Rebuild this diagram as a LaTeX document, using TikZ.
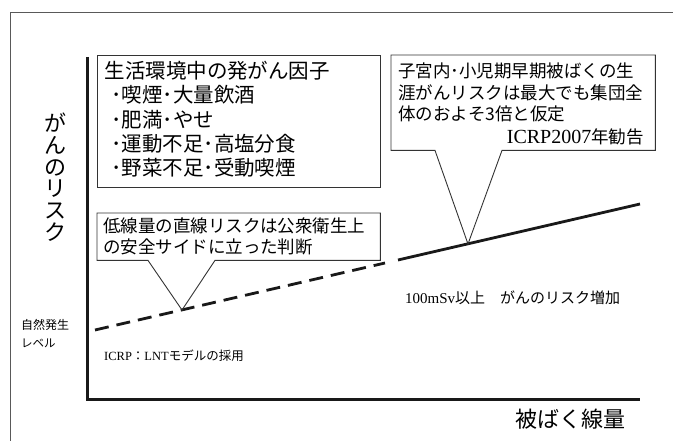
\documentclass[tikz,border=0pt]{standalone}
\usepackage{fontspec}
\setmainfont{Liberation Serif}
\newfontfamily\cjk{Noto Sans CJK JP}
\usetikzlibrary{calc}
\tikzset{
  frameline/.style={draw=black!65, line width=1pt},
  boxline/.style={draw=black!80, line width=0.9pt},
  axisline/.style={draw=black!90, line width=3pt, line join=miter},
  riskline/.style={draw=black!90, line width=2.8pt},
  jtext/.style={inner sep=0pt, outer sep=0pt, align=left},
}
\begin{document}
\begin{tikzpicture}[x=1pt,y=-1pt]
\useasboundingbox (0,0) rectangle (673,441);
% outer frame
\coordinate (fbl) at (10,441);
\coordinate (ftl) at (10,13);
\coordinate (ftr) at (673,13);
\draw[frameline] (fbl) -- (ftl) -- (ftr);

% axes
\coordinate (axtop) at (87,57);
\coordinate (axo) at (87,399);
\coordinate (axend) at (640,399);
\draw[axisline] (axtop) -- (axo) -- (axend);

% risk line
\coordinate (d0) at (95,330);
\coordinate (d1) at (385,263);
\coordinate (s0) at (398,260);
\coordinate (s1) at (640,204);
\draw[riskline, dash pattern=on 14pt off 8pt] (d0) -- (d1);
\draw[riskline] (s0) -- (s1);

% box 1
\node[boxline, rectangle, anchor=north west, minimum width=283pt, minimum height=132pt, inner sep=0pt] (b1) at (97,55) {};
\node[jtext, anchor=north west, font={\cjk\fontsize{20.5}{24.4}\selectfont}] (b1t) at (104.5,61)
 {生活環境中の発がん因子\\
  \hspace{7pt}･喫煙･大量飲酒\\
  \hspace{7pt}･肥満･やせ\\
  \hspace{7pt}･運動不足･高塩分食\\
  \hspace{7pt}･野菜不足･受動喫煙};

% box 2 (callout)
\node[rectangle, anchor=north west, minimum width=264pt, minimum height=95pt, inner sep=0pt] (b2) at (391,55) {};
\coordinate (tip2) at (468,244);
\draw[boxline] ($(b2.south west)+(44,0)$) -- (tip2) -- ($(b2.south west)+(111,0)$)
   -- (b2.south east) -- (b2.north east) -- (b2.north west) -- (b2.south west) -- cycle;
\node[jtext, anchor=north west, font={\cjk\fontsize{17.5}{21.4}\selectfont}] (b2t) at (398,63)
 {子宮内･小児期早期被ばくの生\\
  涯がんリスクは最大でも集団全\\
  体のおよそ3倍と仮定};
\node[inner sep=0pt, anchor=east, font={\fontsize{20}{22}\selectfont}] (b2r) at (644,137)
 {ICRP2007{\cjk\fontsize{17.5}{21}\selectfont 年勧告}};

% box 3 (callout)
\node[rectangle, anchor=north west, minimum width=283pt, minimum height=47pt, inner sep=0pt] (b3) at (97,213) {};
\coordinate (tip3) at (182,310);
\draw[boxline] ($(b3.south west)+(51,0)$) -- (tip3) -- ($(b3.south west)+(118,0)$)
   -- (b3.south east) -- (b3.north east) -- (b3.north west) -- (b3.south west) -- cycle;
\node[jtext, anchor=north west, font={\cjk\fontsize{17.5}{21}\selectfont}] (b3t) at (103,218)
 {低線量の直線リスクは公衆衛生上\\
  の安全サイドに立った判断};

% axis labels
\node[inner sep=0pt, align=center, font={\cjk\fontsize{22}{21.7}\selectfont}, anchor=north] (ylab) at (56,113)
 {が\\ん\\の\\リ\\ス\\ク};
\node[inner sep=0pt, font={\cjk\fontsize{22}{26}\selectfont}, anchor=center] (xlab) at (570,419)
 {被ばく線量};
\node[inner sep=0pt, font={\cjk\fontsize{12}{14}\selectfont}, anchor=west] (nat1) at (21,325)
 {自然発生};
\node[inner sep=0pt, font={\cjk\fontsize{11.5}{14}\selectfont}, anchor=west] (nat2) at (21,343)
 {レベル};

% other labels
\node[inner sep=0pt, anchor=west, font={\fontsize{15}{17}\selectfont}] (inc) at (405,298)
 {100mSv{\cjk 以上　がんのリスク増加}};
\node[inner sep=0pt, anchor=west, font={\fontsize{12.5}{15}\selectfont}] (lnt) at (104,356)
 {ICRP{\cjk ：}LNT{\cjk モデルの採用}};
\end{tikzpicture}
\end{document}
